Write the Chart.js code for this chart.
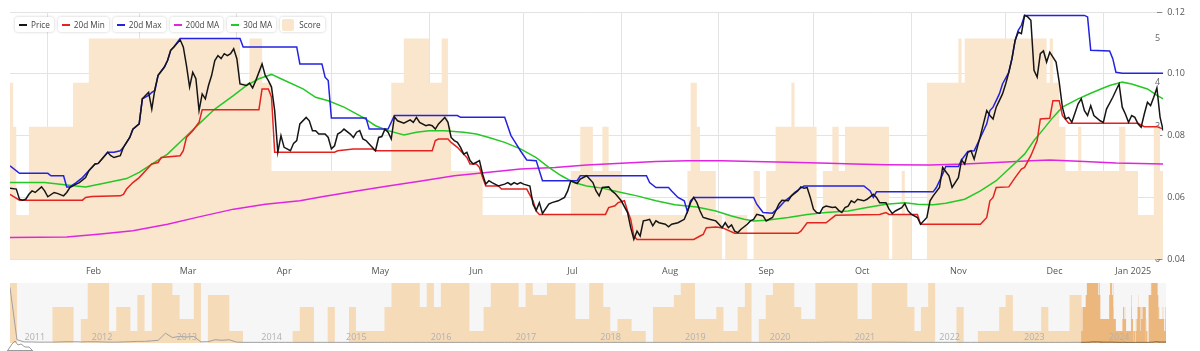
<!DOCTYPE html>
<html>
<head>
<meta charset="utf-8">
<script src="https://cdn.jsdelivr.net/npm/chart.js@4.4.1/dist/chart.umd.min.js"></script>
<style>
  html, body { margin: 0; padding: 0; background: #fff; }
  body { width: 1200px; height: 351px; position: relative; overflow: hidden; font-family: 'Open Sans', sans-serif; }
  #main { position: absolute; left: 0; top: 0; }
  #nav { position: absolute; left: 0; top: 280px; }
  #legend { position: absolute; left: 15px; top: 17px; display: flex; gap: 4px; }
  .item { height: 15px; padding: 0 4px 0 4px; background: #fff; border-radius: 3px;
          box-shadow: 0 0 3px rgba(0,0,0,0.22); display: flex; align-items: center;
          font-size: 8.2px; color: #444; white-space: nowrap; }
  .item .ln { width: 8px; height: 2px; margin-right: 4px; }
  .item .sq { width: 12px; height: 12px; margin: 0 5px 0 -2px; border-radius: 2px; }
  #icon { position: absolute; left: 7px; top: 339px; }
</style>
</head>
<body>
<canvas id="main" width="1200" height="288"></canvas>
<canvas id="nav" width="1200" height="70"></canvas>
<div id="legend"></div>
<svg id="icon" width="26" height="12" viewBox="0 0 26 12"><polyline points="1,11 5,5 8,2 11,6 14,5 18,8 22,8 25,11" fill="none" stroke="#9a9a9a" stroke-width="1"/><line x1="0" y1="11.5" x2="26" y2="11.5" stroke="#9a9a9a" stroke-width="1"/></svg>
<script>
// x values are days counted from 1 Jan 2024 (values above 365 run into Jan 2025)
const DAY0 = Date.UTC(2024, 0, 1);
function dayOf(y, m, d) { return (Date.UTC(y, m - 1, d) - DAY0) / 864e5; }

const xMin = 19, xMax = 385;
const monthNames = ['Feb', 'Mar', 'Apr', 'May', 'Jun', 'Jul', 'Aug', 'Sep', 'Oct', 'Nov', 'Dec', 'Jan 2025'];
const priceTicks = [0.04, 0.06, 0.08, 0.10, 0.12];
const scoreTicks = [0, 1, 2, 3, 4, 5];

const price = [
  [19,.0630],[21,.0627],[22,.0594],[23,.0591],[24,.0594],[25,.0610],[26,.0621],[27,.0616],[29,.0634],[30,.0621],
  [31,.0602],[33,.0616],[34,.0613],[36,.0605],[37,.0616],[38,.0632],[40,.0643],[41,.0648],[43,.0664],[44,.0686],
  [46,.0708],[47,.0710],[50,.0746],[51,.0735],[52,.0729],[54,.0735],[55,.0762],[57,.0794],[58,.0821],[60,.0838],
  [61,.0919],[62,.0930],[63,.0940],[64,.0886],[65,.0951],[66,.0995],[68,.1022],[69,.1043],[70,.1076],[71,.1087],
  [73,.1110],[74,.1087],[75,.1027],[76,.0957],[77,.1005],[78,.0984],[79,.0881],[80,.0935],[81,.0919],[82,.0962],
  [83,.0995],[84,.1043],[85,.1059],[86,.1049],[87,.1065],[88,.1059],[89,.1065],[90,.1081],[91,.1049],[92,.0967],
  [94,.0962],[95,.0970],[96,.0954],[97,.0978],[99,.1032],[100,.0995],[101,.0978],[102,.0957],[103,.0881],[104,.0746],
  [105,.0800],[106,.0762],[108,.0751],[109,.0775],[110,.0784],[111,.0838],[113,.0859],[114,.0848],[115,.0816],[116,.0816],
  [117,.0805],[119,.0805],[120,.0794],[121,.0757],[122,.0767],[123,.0805],[124,.0811],[125,.0821],[127,.0805],[128,.0794],
  [129,.0811],[130,.0816],[131,.0789],[132,.0784],[133,.0773],[135,.0751],[136,.0794],[137,.0797],[138,.0821],[139,.0811],
  [140,.0789],[141,.0861],[142,.0848],[144,.0840],[146,.0851],[147,.0843],[148,.0859],[149,.0843],[151,.0832],[152,.0835],
  [153,.0832],[154,.0821],[155,.0838],[157,.0859],[158,.0843],[159,.0794],[160,.0784],[161,.0778],[162,.0762],[163,.0740],
  [164,.0746],[165,.0719],[166,.0708],[168,.0719],[169,.0675],[170,.0643],[171,.0654],[172,.0648],[174,.0637],[176,.0643],
  [177,.0648],[178,.0641],[179,.0648],[180,.0643],[181,.0648],[182,.0643],[184,.0637],[185,.0578],[186,.0558],[187,.0583],
  [188,.0548],[190,.0578],[191,.0583],[193,.0589],[195,.0600],[196,.0621],[197,.0654],[199,.0645],[200,.0659],[202,.0670],
  [204,.0648],[205,.0621],[206,.0605],[207,.0632],[209,.0634],[210,.0621],[211,.0613],[213,.0589],[215,.0551],[216,.0502],
  [217,.0464],[218,.0491],[219,.0475],[220,.0524],[221,.0526],[222,.0529],[223,.0508],[224,.0524],[225,.0518],[227,.0513],
  [228,.0505],[229,.0513],[231,.0518],[233,.0529],[234,.0554],[235,.0583],[236,.0600],[237,.0583],[238,.0556],[239,.0535],
  [241,.0529],[243,.0524],[244,.0513],[245,.0502],[246,.0518],[247,.0502],[248,.0511],[249,.0491],[250,.0486],[251,.0497],
  [253,.0513],[254,.0524],[255,.0529],[256,.0545],[258,.0540],[259,.0524],[261,.0535],[262,.0556],[263,.0578],[264,.0591],
  [266,.0589],[267,.0605],[269,.0621],[270,.0634],[271,.0630],[272,.0632],[273,.0600],[274,.0562],[275,.0551],[276,.0548],
  [277,.0567],[278,.0572],[280,.0567],[281,.0569],[282,.0558],[283,.0551],[284,.0567],[285,.0572],[286,.0589],[287,.0583],
  [288,.0594],[290,.0589],[291,.0594],[293,.0610],[294,.0600],[295,.0583],[297,.0583],[298,.0562],[299,.0548],[300,.0556],
  [302,.0567],[303,.0580],[304,.0557],[305,.0546],[307,.0535],[308,.0513],[310,.0535],[311,.0589],[312,.0605],[314,.0632],
  [315,.0697],[317,.0670],[318,.0632],[320,.0664],[321,.0721],[322,.0708],[323,.0746],[324,.0751],[325,.0724],[326,.0762],
  [327,.0800],[329,.0881],[330,.0865],[331,.0854],[332,.0892],[333,.0913],[334,.0935],[335,.0967],[336,.1005],[337,.1049],
  [338,.1108],[339,.1135],[340,.1130],[341,.1189],[342,.1184],[343,.1173],[344,.1011],[345,.0989],[346,.1065],[347,.1074],
  [348,.1038],[349,.1070],[351,.1038],[352,.0973],[353,.0892],[354,.0854],[355,.0859],[356,.0843],[358,.0903],[359,.0919],
  [360,.0881],[361,.0865],[362,.0897],[363,.0865],[365,.0848],[366,.0843],[367,.0886],[369,.0924],[370,.0946],[371,.0967],
  [372,.0892],[373,.0870],[374,.0843],[375,.0865],[376,.0859],[377,.0838],[378,.0827],[379,.0870],[380,.0908],[381,.0897],
  [382,.0924],[383,.0954],[384,.0860],[385,.0816]
];

const min20 = [
  [19,.0610],[22,.0591],[42,.0591],[43,.0600],[45,.0603],[54,.0605],[55,.0610],[56,.0627],[58,.0648],[60,.0664],
  [62,.0686],[64,.0708],[66,.0713],[67,.0729],[73,.0735],[74,.0751],[75,.0794],[77,.0816],[79,.0843],[80,.0884],
  [98,.0884],[99,.0951],[101,.0951],[102,.0924],[103,.0746],[122,.0746],[123,.0751],[128,.0757],[134,.0757],[135,.0751],
  [153,.0751],[154,.0784],[155,.0789],[158,.0789],[159,.0778],[161,.0762],[163,.0740],[164,.0729],[165,.0708],[167,.0708],
  [168,.0697],[169,.0664],[170,.0637],[174,.0637],[175,.0627],[183,.0627],[185,.0589],[186,.0556],[187,.0545],[208,.0545],
  [209,.0567],[211,.0573],[212,.0583],[214,.0589],[215,.0556],[216,.0529],[217,.0475],[218,.0464],[236,.0464],[238,.0475],
  [239,.0480],[240,.0502],[243,.0504],[245,.0502],[249,.0484],[269,.0484],[270,.0491],[272,.0518],[278,.0518],[281,.0542],
  [295,.0545],[297,.0551],[298,.0545],[307,.0545],[308,.0513],[327,.0513],[329,.0535],[330,.0589],[331,.0600],[332,.0632],
  [336,.0634],[338,.0664],[340,.0692],[341,.0697],[343,.0735],[345,.0784],[346,.0854],[349,.0856],[350,.0913],[352,.0913],
  [353,.0865],[355,.0840],[377,.0840],[379,.0829],[383,.0829],[385,.0821]
];

const max20 = [
  [19,.0702],[22,.0678],[31,.0678],[32,.0670],[36,.0670],[37,.0634],[38,.0634],[40,.0648],[42,.0664],[44,.0686],
  [46,.0708],[47,.0710],[50,.0746],[52,.0746],[54,.0751],[55,.0762],[57,.0794],[58,.0821],[60,.0838],[61,.0919],
  [63,.0930],[64,.0940],[65,.0946],[66,.0995],[68,.1022],[69,.1043],[70,.1076],[71,.1087],[73,.1114],[92,.1114],
  [93,.1087],[110,.1087],[111,.1032],[118,.1032],[119,.0989],[120,.0978],[121,.0857],[132,.0857],[133,.0821],[139,.0821],
  [141,.0865],[161,.0865],[162,.0859],[176,.0859],[178,.0800],[179,.0784],[181,.0751],[183,.0721],[186,.0719],[188,.0654],
  [199,.0654],[200,.0670],[221,.0670],[222,.0648],[224,.0632],[228,.0632],[229,.0621],[231,.0600],[233,.0589],[234,.0554],
  [235,.0589],[236,.0600],[255,.0600],[256,.0578],[258,.0551],[261,.0549],[263,.0567],[265,.0589],[267,.0605],[268,.0616],
  [271,.0637],[290,.0637],[292,.0621],[293,.0600],[294,.0618],[312,.0618],[313,.0632],[315,.0675],[316,.0700],[320,.0700],
  [321,.0721],[323,.0749],[325,.0751],[327,.0794],[329,.0838],[330,.0881],[331,.0892],[332,.0913],[333,.0935],[334,.0967],
  [336,.1005],[337,.1049],[338,.1108],[339,.1141],[340,.1157],[341,.1189],[360,.1189],[361,.1184],[362,.1076],[368,.1074],
  [369,.1049],[370,.1005],[372,.1002],[385,.1002]
];

const ma200 = [
  [19,.0470],[37,.0472],[47,.0481],[58,.0492],[69,.0513],[79,.0537],[90,.0562],[100,.0578],[111,.0589],[118,.0602],
  [129,.0621],[139,.0637],[150,.0654],[160,.0670],[171,.0681],[181,.0692],[192,.0697],[202,.0705],[224,.0716],[234,.0719],
  [245,.0719],[255,.0716],[266,.0714],[276,.0711],[287,.0708],[297,.0706],[311,.0705],[322,.0708],[332,.0713],[343,.0719],
  [349,.0721],[360,.0716],[370,.0711],[385,.0708]
];

const ma30 = [
  [19,.0648],[30,.0648],[37,.0640],[43,.0634],[50,.0648],[56,.0661],[60,.0681],[64,.0708],[69,.0740],[74,.0789],
  [79,.0838],[84,.0886],[90,.0930],[94,.0962],[98,.0984],[102,.0998],[105,.0984],[112,.0951],[116,.0924],[120,.0913],
  [125,.0892],[131,.0859],[135,.0832],[139,.0816],[144,.0802],[148,.0811],[152,.0816],[157,.0816],[163,.0811],[167,.0805],
  [171,.0794],[176,.0778],[181,.0757],[186,.0729],[190,.0697],[194,.0670],[198,.0648],[202,.0637],[207,.0630],[213,.0616],
  [218,.0605],[224,.0589],[230,.0576],[237,.0569],[243,.0556],[248,.0540],[252,.0529],[255,.0524],[259,.0526],[266,.0535],
  [272,.0545],[278,.0551],[285,.0556],[291,.0567],[297,.0578],[303,.0583],[307,.0578],[312,.0576],[316,.0581],[322,.0594],
  [327,.0621],[332,.0654],[336,.0692],[341,.0740],[344,.0784],[347,.0821],[350,.0859],[353,.0892],[358,.0919],[362,.0937],
  [366,.0954],[368,.0962],[372,.0973],[375,.0967],[380,.0951],[383,.0930],[385,.0919]
];

// score: [first day of the run, score]
const score = [
  [19,4],[20,3],[21,1],[25,3],[39,4],[44,5],[92,4],[95,5],[99,4],[102,2],[140,4],[144,5],[152,4],[156,5],[158,3],
  [159,2],[169,1],[197,2],[200,3],[204,2],[207,3],[209,2],[213,1],[234,2],[235,4],[237,3],[238,2],[243,1],[245,0],
  [246,1],[253,0],[255,2],[257,1],[259,2],[262,3],[267,4],[268,3],[275,1],[277,2],[280,3],[282,2],[284,3],[298,0],
  [299,1],[302,2],[303,1],[305,0],[310,4],[320,5],[321,4],[322,5],[348,4],[349,5],[350,4],[352,3],[354,2],[358,3],
  [359,2],[371,3],[373,2],[377,1],[382,3],[384,2],[385,2]
];

// navigator history, one value per month from Jun 2011 to Dec 2023
const historyStart = [2011, 6];
const historyScore = [
  5,0,0,0,0,0,3,
  3,3,0,2,5,5,5,1,3,3,1,4,
  1,5,5,5,4,2,2,5,0,4,4,4,
  1,1,0,0,0,0,0,0,0,1,3,3,
  0,0,3,0,0,3,1,1,1,1,3,5,
  5,5,5,3,5,3,5,5,5,5,1,1,
  3,5,5,5,5,3,5,4,4,5,5,5,
  5,2,2,5,5,3,1,2,2,1,1,0,
  3,3,3,4,5,5,2,2,2,3,1,1,
  3,5,0,2,4,5,5,5,3,2,2,5,
  5,5,5,5,5,2,2,5,5,5,5,5,
  3,1,3,5,0,0,0,3,0,0,1,1,
  1,3,4,1,1,1,1,3,1,1,1,4
];
const historyPrice = [
  5.1,0.3,0.1,0.1,0.08,0.08,0.08,
  0.1,0.12,0.12,0.1,0.12,0.12,0.1,0.08,0.08,0.1,0.12,0.15,
  0.15,0.2,0.25,0.9,0.5,0.6,0.55,0.6,0.1,0.12,0.3,0.25,
  0.3,0.08,0.06,0.06,0.06,0.06,0.06,0.06,0.06,0.06,0.06,0.06,
  0.06,0.06,0.06,0.06,0.06,0.06,0.06,0.06,0.06,0.06,0.06,0.06,
  0.06,0.06,0.06,0.06,0.06,0.06,0.06,0.06,0.06,0.06,0.06,0.06,
  0.06,0.06,0.06,0.06,0.06,0.06,0.06,0.06,0.06,0.06,0.06,0.06,
  0.06,0.06,0.06,0.06,0.06,0.06,0.06,0.06,0.06,0.06,0.06,0.06,
  0.06,0.06,0.06,0.06,0.06,0.06,0.06,0.06,0.06,0.06,0.06,0.06,
  0.06,0.06,0.06,0.06,0.06,0.06,0.06,0.06,0.06,0.06,0.06,0.06,
  0.07,0.08,0.08,0.08,0.07,0.07,0.07,0.08,0.08,0.08,0.08,0.07,
  0.07,0.06,0.06,0.06,0.06,0.06,0.06,0.06,0.06,0.06,0.06,0.06,
  0.06,0.06,0.06,0.06,0.06,0.06,0.06,0.06,0.06,0.06,0.06,0.06
];

const SCORE_BG = '#fae6cd';
const pts = arr => arr.map(([x, y]) => ({ x, y }));

const monthStarts = monthNames.map((_, i) => dayOf(2024, i + 2, 1));
const monthMids = monthStarts.map((s, i) => {
  const e = i < monthStarts.length - 1 ? monthStarts[i + 1] : xMax;
  return (s + Math.min(e, xMax)) / 2;
});

const font = { family: "'Open Sans', sans-serif", size: 9 };

const lineSet = (label, data, color, order) => ({
  label, data: pts(data), borderColor: color, backgroundColor: color, borderWidth: 1.5,
  pointRadius: 0, tension: 0, fill: false, order, yAxisID: 'y'
});

const chart = new Chart(document.getElementById('main'), {
  type: 'line',
  data: {
    datasets: [
      lineSet('Price', price, '#151515', 0),
      lineSet('20d Min', min20, '#e3231f', 2),
      lineSet('20d Max', max20, '#2323e0', 1),
      lineSet('200d MA', ma200, '#e025e0', 4),
      lineSet('30d MA', ma30, '#25c825', 3),
      {
        label: 'Score', data: pts(score), yAxisID: 'score', stepped: true, fill: 'origin',
        backgroundColor: SCORE_BG, borderWidth: 0, borderColor: SCORE_BG, pointRadius: 0, order: 10
      }
    ]
  },
  options: {
    responsive: false,
    animation: false,
    events: [],
    layout: { padding: { left: 10, right: 4, top: 12, bottom: 4 } },
    plugins: { legend: { display: false }, tooltip: { enabled: false } },
    scales: {
      x: {
        type: 'linear', min: xMin, max: xMax, weight: 0,
        afterBuildTicks: s => { s.ticks = monthStarts.map(v => ({ value: v })); },
        grid: { color: '#e3e3e3', drawTicks: false },
        border: { display: false },
        ticks: { display: false }
      },
      xm: {
        type: 'linear', position: 'bottom', min: xMin, max: xMax, weight: 1,
        afterBuildTicks: s => { s.ticks = monthMids.map(v => ({ value: v })); },
        grid: { display: false, drawTicks: false },
        border: { display: false },
        ticks: { autoSkip: false, maxRotation: 0, padding: 7, color: '#555', font,
                 callback: (v, i) => monthNames[i] }
      },
      y: {
        position: 'right', weight: 1, min: 0.04, max: 0.12,
        afterBuildTicks: s => { s.ticks = priceTicks.map(v => ({ value: v })); },
        grid: { color: '#e3e3e3', tickLength: 5, tickColor: '#888' },
        border: { display: false },
        ticks: { color: '#555', font, padding: 5, callback: v => v.toFixed(2) }
      },
      score: {
        position: 'right', weight: 0, min: 0, max: 5.6, z: 1,
        afterBuildTicks: s => { s.ticks = scoreTicks.map(v => ({ value: v })); },
        grid: { display: false, drawTicks: false },
        border: { display: false },
        ticks: { mirror: true, padding: -3, color: '#666', font }
      }
    }
  }
});

// html legend built from the datasets
const legendEl = document.getElementById('legend');
chart.data.datasets.forEach(ds => {
  const it = document.createElement('div');
  it.className = 'item';
  const sw = document.createElement('span');
  sw.className = ds.label === 'Score' ? 'sq' : 'ln';
  sw.style.background = ds.backgroundColor;
  it.appendChild(sw);
  it.appendChild(document.createTextNode(ds.label));
  legendEl.appendChild(it);
});

// navigator
const histX = historyScore.map((_, i) => dayOf(historyStart[0], historyStart[1] + i, 1));
const navMin = histX[0];
const histScorePts = historyScore.map((v, i) => ({ x: histX[i], y: v }));
histScorePts.push({ x: xMin, y: historyScore[historyScore.length - 1] });
const histPricePts = historyPrice.map((v, i) => ({ x: histX[i], y: v }));
histPricePts.push({ x: xMin, y: price[0][1] });

const navDecor = {
  id: 'navDecor',
  beforeDatasetsDraw(c) {
    const a = c.chartArea, ctx = c.ctx;
    ctx.save();
    ctx.fillStyle = '#f6f6f6';
    ctx.fillRect(a.left, a.top, a.right - a.left, a.bottom - a.top);
    ctx.restore();
  },
  afterDatasetsDraw(c) {
    const a = c.chartArea, ctx = c.ctx, sx = c.scales.x;
    ctx.save();
    ctx.fillStyle = '#b0b0b0';
    ctx.font = "9px 'Open Sans', sans-serif";
    ctx.textAlign = 'center';
    ctx.textBaseline = 'middle';
    for (let y = 2011; y <= 2024; y++) {
      const s = Math.max(dayOf(y, 1, 1), sx.min), e = Math.min(dayOf(y + 1, 1, 1), sx.max);
      ctx.fillText(String(y), sx.getPixelForValue((s + e) / 2), a.bottom - 6);
    }
    ctx.restore();
  }
};

new Chart(document.getElementById('nav'), {
  type: 'line',
  data: {
    datasets: [
      { data: histScorePts, yAxisID: 's', stepped: true, fill: 'origin', backgroundColor: '#f6dbb9',
        borderWidth: 0, pointRadius: 0, order: 4 },
      { data: pts(score), yAxisID: 's', stepped: true, fill: 'origin', backgroundColor: '#ecb77d',
        borderWidth: 0, pointRadius: 0, order: 3 },
      { data: histPricePts, yAxisID: 'p', borderColor: '#a0a0a0', borderWidth: 1, pointRadius: 0, tension: 0, order: 2 },
      { data: pts(price), yAxisID: 'p', borderColor: '#6b5a48', borderWidth: 1, pointRadius: 0, tension: 0, order: 1 }
    ]
  },
  options: {
    responsive: false,
    animation: false,
    events: [],
    layout: { padding: { left: 10, right: 34, top: 3, bottom: 7 } },
    plugins: { legend: { display: false }, tooltip: { enabled: false } },
    scales: {
      x: { type: 'linear', min: navMin, max: xMax, display: false },
      s: { min: 0, max: 5, display: false },
      p: { min: 0, max: 5.5, display: false }
    }
  },
  plugins: [navDecor]
});
</script>
</body>
</html>
